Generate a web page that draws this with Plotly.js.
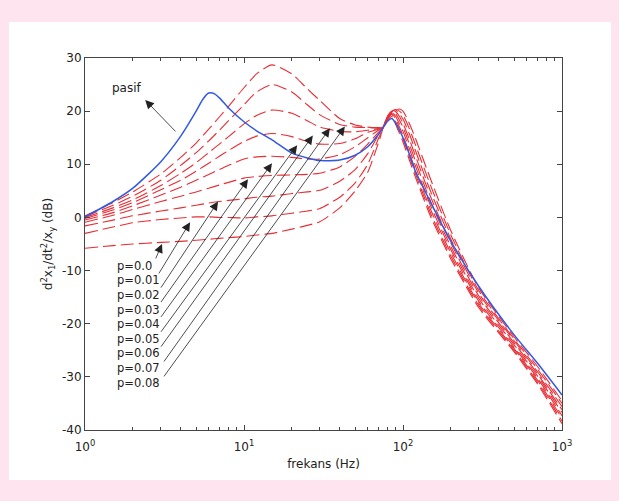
<!DOCTYPE html>
<html><head><meta charset="utf-8">
<script src="https://cdn.plot.ly/plotly-3.0.1.min.js"></script>
<style>html,body{margin:0;padding:0;background:#fde4ee;}#chart{width:619px;height:501px;}</style>
</head><body><div id="chart"></div>
<script>
// ---- data ----
const freqPasif = [1, 1.5, 2, 3, 4, 5, 5.5, 6, 6.5, 7, 8, 10, 12, 15, 20, 25, 30, 40, 50, 60, 70, 75, 80, 85, 90, 95, 100, 110, 120, 150, 200, 300, 500, 700, 1000];
const dbPasif = [0.1, 3.0, 5.5, 10.5, 15.3, 20.0, 22.2, 23.4, 23.3, 22.5, 20.6, 18.0, 16.3, 14.6, 12.1, 11.2, 10.7, 10.8, 11.7, 13.3, 15.6, 16.9, 18.1, 18.6, 17.7, 16.4, 15.0, 11.8, 8.6, 2.7, -4.5, -13.0, -22.1, -27.4, -33.4];

const freqAktif = [1, 1.5, 2, 3, 4, 5, 6, 7, 8, 10, 12, 15, 20, 25, 30, 40, 50, 60, 70, 75, 80, 85, 90, 95, 100, 110, 120, 150, 200, 300, 500, 700, 1000];
const pLabels = ['p=0.0', 'p=0.01', 'p=0.02', 'p=0.03', 'p=0.04', 'p=0.05', 'p=0.06', 'p=0.07', 'p=0.08'];
const dbP000 = [-5.8, -5.3, -5.0, -4.7, -4.5, -4.3, -4.1, -3.95, -3.8, -3.6, -3.3, -3.0, -2.2, -1.5, -0.8, 1.8, 5.0, 8.5, 14.0, 16.8, 18.8, 19.8, 20.2, 20.4, 20.0, 17.6, 14.8, 7.0, -2.5, -13.3, -22.5, -28.0, -34.5];
const dbP001 = [-3.0, -1.8, -1.0, -0.4, -0.1, 0.1, 0.1, 0.0, 0.0, -0.1, 0.1, 0.3, 0.8, 1.2, 1.7, 3.8, 6.5, 10.0, 14.8, 16.9, 19.0, 19.9, 20.3, 20.0, 19.3, 16.6, 13.6, 5.8, -3.3, -13.8, -22.9, -28.5, -35.0];
const dbP002 = [-1.6, -0.5, 0.3, 1.2, 1.8, 2.3, 2.7, 3.0, 3.2, 3.5, 3.8, 4.0, 4.5, 4.8, 5.1, 6.8, 9.0, 12.0, 15.5, 17.0, 19.1, 20.0, 20.2, 19.5, 18.5, 15.6, 12.5, 4.7, -4.1, -14.3, -23.2, -29.0, -35.6];
const dbP003 = [-0.9, 0.4, 1.5, 3.0, 4.0, 4.8, 5.5, 6.1, 6.6, 7.4, 7.7, 7.9, 8.0, 8.1, 8.3, 9.5, 11.5, 13.8, 16.0, 17.0, 19.0, 20.0, 19.9, 19.0, 17.7, 14.6, 11.5, 3.7, -4.8, -14.8, -23.6, -29.4, -36.2];
const dbP004 = [-0.5, 0.9, 2.2, 4.2, 5.7, 7.0, 8.1, 9.0, 9.8, 11.0, 11.4, 11.5, 11.3, 11.0, 11.0, 11.8, 13.3, 15.0, 16.4, 17.0, 18.9, 20.0, 19.5, 18.3, 17.0, 13.7, 10.5, 2.8, -5.5, -15.3, -24.0, -29.8, -36.7];
const dbP005 = [-0.2, 1.4, 2.8, 5.2, 7.0, 8.7, 10.2, 11.5, 12.6, 14.3, 15.3, 15.8, 15.2, 14.3, 13.8, 13.9, 14.8, 16.0, 16.6, 17.0, 18.8, 19.8, 19.0, 17.6, 16.2, 12.8, 9.6, 2.0, -6.1, -15.8, -24.4, -30.2, -37.3];
const dbP006 = [0.0, 1.8, 3.3, 6.0, 8.3, 10.3, 12.2, 13.8, 15.2, 17.6, 19.2, 20.2, 19.6, 18.2, 17.0, 16.2, 16.1, 16.4, 16.7, 17.0, 18.6, 19.6, 18.5, 17.0, 15.4, 12.0, 8.8, 1.3, -6.7, -16.2, -24.7, -30.6, -37.8];
const dbP007 = [0.2, 2.3, 4.0, 7.0, 9.8, 12.2, 14.4, 16.4, 18.2, 21.2, 23.6, 25.0, 23.6, 21.2, 19.3, 17.5, 17.0, 16.9, 16.8, 17.0, 18.5, 19.4, 18.0, 16.4, 14.8, 11.3, 8.1, 0.6, -7.3, -16.6, -25.0, -31.0, -38.3];
const dbP008 = [0.3, 2.8, 4.8, 8.2, 11.3, 14.0, 16.6, 18.9, 20.9, 24.4, 27.0, 28.7, 27.0, 24.2, 22.0, 18.6, 17.4, 17.0, 16.9, 17.0, 18.3, 19.0, 17.5, 15.8, 14.2, 10.7, 7.5, 0.0, -7.8, -17.0, -25.3, -31.3, -38.8];
const aktifSeries = [dbP000, dbP001, dbP002, dbP003, dbP004, dbP005, dbP006, dbP007, dbP008];

const xTickVals = [1, 10, 100, 1000];
const xTickText = ['10<sup>0</sup>', '10<sup>1</sup>', '10<sup>2</sup>', '10<sup>3</sup>'];
const xMinorVals = [2,3,4,5,6,7,8,9,20,30,40,50,60,70,80,90,200,300,400,500,600,700,800,900];
const yTickVals = [-40, -30, -20, -10, 0, 10, 20, 30];
const yTickText = ['-40', '-30', '-20', '-10', '0', '10', '20', '30'];

// ---- annotation placement (layout, in data units: Hz, dB) ----
const arrowHead = [[3.05,-5.0],[4.58,-0.9],[6.87,3.0],[10.6,7.2],[15.0,10.2],[21.6,13.6],[27.1,15.4],[34.7,16.8],[43.1,17.1]];
const arrowTail = [[2.76,-8.0],[2.88,-10.8],[2.96,-13.5],[2.96,-16.2],[2.96,-19.0],[2.96,-21.8],[2.96,-24.6],[3.09,-27.4],[3.09,-30.2]];
const labelPos = [[1.54,-9.1],[1.54,-11.85],[1.54,-14.6],[1.54,-17.35],[1.54,-20.1],[1.54,-22.85],[1.54,-25.6],[1.54,-28.35],[1.54,-31.1]];
const pasifLabel = [1.84, 24.35];
const pasifHead = [2.39, 22.1];
const pasifTail = [3.79, 15.9];

const FONT = 'DejaVu Sans, Arial, sans-serif';
const L = Math.log10;

const traces = [];
aktifSeries.forEach((ys, i) => {
  traces.push({
    x: freqAktif, y: ys, type: 'scatter', mode: 'lines', name: pLabels[i],
    line: {color: 'rgb(232,45,52)', width: 1.1, dash: '13px,5px', shape: 'spline', smoothing: 0.6},
    hoverinfo: 'skip'
  });
});
traces.push({
  x: freqPasif, y: dbPasif, type: 'scatter', mode: 'lines', name: 'pasif',
  line: {color: 'rgb(50,90,225)', width: 1.5, shape: 'spline', smoothing: 0.6}
});

const annotations = [];
pLabels.forEach((t, i) => {
  annotations.push({
    x: L(labelPos[i][0]), y: labelPos[i][1], xref: 'x', yref: 'y', text: t,
    showarrow: false, xanchor: 'left', yanchor: 'middle',
    font: {family: FONT, size: 11.5, color: '#222'}
  });
  annotations.push({
    x: L(arrowHead[i][0]), y: arrowHead[i][1], ax: L(arrowTail[i][0]), ay: arrowTail[i][1],
    xref: 'x', yref: 'y', axref: 'x', ayref: 'y', text: '', showarrow: true,
    arrowhead: 2, arrowsize: 2.2, arrowwidth: 0.8, arrowcolor: '#222'
  });
});
annotations.push({
  x: L(pasifLabel[0]), y: pasifLabel[1], xref: 'x', yref: 'y', text: 'pasif',
  showarrow: false, font: {family: FONT, size: 12, color: '#222'}
});
annotations.push({
  x: L(pasifHead[0]), y: pasifHead[1], ax: L(pasifTail[0]), ay: pasifTail[1],
  xref: 'x', yref: 'y', axref: 'x', ayref: 'y', text: '', showarrow: true,
  arrowhead: 2, arrowsize: 2.2, arrowwidth: 0.8, arrowcolor: '#222'
});

const layout = {
  width: 619, height: 501,
  paper_bgcolor: '#fde4ee', plot_bgcolor: '#ffffff',
  margin: {l: 85, r: 57, t: 58, b: 71},
  showlegend: false,
  font: {family: FONT, size: 12, color: '#222'},
  shapes: [{
    type: 'rect', xref: 'paper', yref: 'paper', layer: 'below',
    x0: -0.1593, x1: 1.1027, y0: -0.1344, y1: 1.0968,
    fillcolor: '#ffffff', line: {width: 0}
  }],
  xaxis: {
    type: 'log', range: [0, 3], showgrid: false, zeroline: false,
    showline: true, linecolor: '#444', linewidth: 1, mirror: 'ticks',
    ticks: 'inside', ticklen: 5, tickcolor: '#444', ticklabelstandoff: 6,
    tickmode: 'array', tickvals: xTickVals, ticktext: xTickText,
    tickfont: {family: FONT, size: 12, color: '#222'},
    minor: {tickmode: 'array', tickvals: xMinorVals, ticks: 'inside', ticklen: 3, tickcolor: '#444', showgrid: false},
    title: {text: 'frekans (Hz)', font: {family: FONT, size: 12, color: '#222'}, standoff: 6}
  },
  yaxis: {
    range: [-40, 30], showgrid: false, zeroline: false,
    showline: true, linecolor: '#444', linewidth: 1, mirror: 'ticks',
    ticks: 'inside', ticklen: 5, tickcolor: '#444',
    tickmode: 'array', tickvals: yTickVals, ticktext: yTickText,
    tickfont: {family: FONT, size: 12, color: '#222'},
    title: {text: 'd<sup>2</sup>x<sub>1</sub>/dt<sup>2</sup>/x<sub>y</sub> (dB)', font: {family: FONT, size: 12, color: '#222'}, standoff: 6}
  },
  annotations: annotations
};

Plotly.newPlot('chart', traces, layout, {displayModeBar: false, staticPlot: true});
</script>
</body></html>
